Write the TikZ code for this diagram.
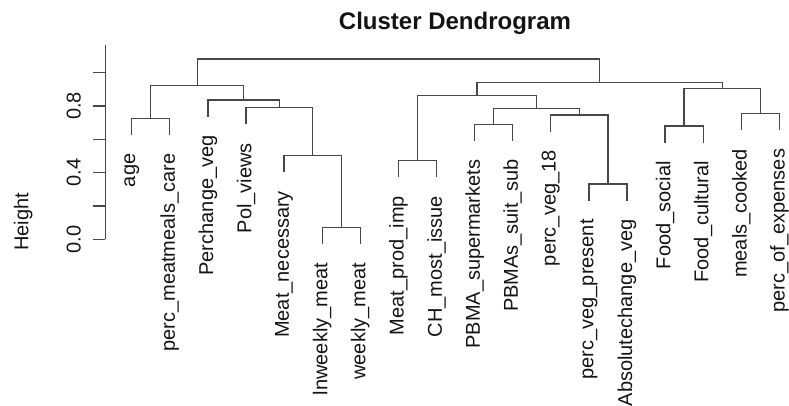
\documentclass[tikz,border=0pt]{standalone}
\usepackage{fontspec}
\setmainfont{Liberation Sans}
\usepackage{xcolor}
\usepackage{tikz}
\usetikzlibrary{calc}
\definecolor{DLine}{HTML}{484848}
\definecolor{DInk}{HTML}{141414}

\tikzset{
  dendro/.style={draw=DLine, line width=1pt},
  leaflbl/.style={font=\fontsize{15}{18}\selectfont, text=DInk, rotate=90, anchor=east, inner sep=0pt},
  ticklbl/.style={font=\fontsize{15}{18}\selectfont, text=DInk, rotate=90, anchor=base, inner sep=0pt}
}

\begin{document}
\begin{tikzpicture}[x=0.75pt, y=-0.75pt]
\useasboundingbox (0,0) rectangle (789,406);
\node[font=\fontsize{18}{22}\selectfont\bfseries, text=DInk, anchor=base, inner sep=0pt]
     (title) at (455,30) {Cluster Dendrogram};
% height axis
\coordinate (axbot) at (105.3,239.3);
\coordinate (axtop) at (105.3,45);
\draw[dendro] (axbot) -- (axtop);
\foreach \h in {0,1,...,5}{
  \coordinate (tk\h) at (105.3,{239.3-33.33*\h});
  \draw[dendro] (tk\h) -- ++(-12,0);
}
\foreach \h/\v in {0/0.0, 2/0.4, 4/0.8}
  \node[ticklbl] (tl\h) at ($(tk\h)+(-24.8,0)$) {\v};
\node[ticklbl] (ylab) at (28.5,221.7) {Height};
% leaves
\foreach \i/\nm/\py/\lbl in {%
  0/age/118.3/{age},
  1/pmc/118.3/{perc\_meatmeals\_care},
  2/pcv/100/{Perchange\_veg},
  3/pol/107.7/{Pol\_views},
  4/mn/155.7/{Meat\_necessary},
  5/lwm/227.5/{lnweekly\_meat},
  6/wm/227.5/{weekly\_meat},
  7/mpi/160.7/{Meat\_prod\_imp},
  8/ch/160.7/{CH\_most\_issue},
  9/pbma/124.3/{PBMA\_supermarkets},
  10/pbmas/124.3/{PBMAs\_suit\_sub},
  11/pvt/115/{perc\_veg\_18},
  12/pvp/184/{perc\_veg\_present},
  13/absv/184/{Absolutechange\_veg},
  14/fs/126/{Food\_social},
  15/fc/126/{Food\_cultural},
  16/mc/113.5/{meals\_cooked},
  17/poe/113.5/{perc\_of\_expenses}}{
  \coordinate (\nm) at ({131.7+38.1*\i},{\py+16.7});
  \node[leaflbl] (t-\nm) at ($(\nm)+(0,18.4)$) {\lbl};
}
% merges
\coordinate (mA) at (150.75,118.3);
\coordinate (mL1) at (341.25,227.5);
\coordinate (mL2) at (312.7,155.7);
\coordinate (mL3) at (279.35,107.7);
\coordinate (mL4) at (243.6,100);
\coordinate (mL5) at (197.2,85.5);
\coordinate (mB) at (417.45,160.7);
\coordinate (mD) at (493.65,124.3);
\coordinate (mF) at (607.95,184);
\coordinate (mE) at (579.4,115);
\coordinate (mC) at (536.5,108.5);
\coordinate (mH) at (477,95.5);
\coordinate (mJ) at (684.15,126);
\coordinate (mK) at (760.35,113.5);
\coordinate (mI) at (722.25,88.5);
\coordinate (mG) at (599.6,82.7);
\coordinate (mR) at (398.4,59);
\foreach \l/\m/\r in {age/mA/pmc, lwm/mL1/wm, mn/mL2/mL1, pol/mL3/mL2,
  pcv/mL4/mL3, mA/mL5/mL4, mpi/mB/ch, pbma/mD/pbmas, pvp/mF/absv,
  pvt/mE/mF, mD/mC/mE, mB/mH/mC, fs/mJ/fc, mc/mK/poe, mJ/mI/mK,
  mH/mG/mI, mL5/mR/mG}
  \draw[dendro] (\l) |- (\m) -| (\r);
\end{tikzpicture}
\end{document}
